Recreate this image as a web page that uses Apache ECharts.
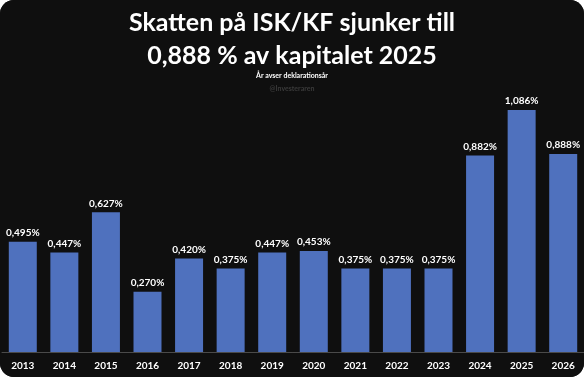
<!DOCTYPE html>
<html>
<head>
<meta charset="utf-8">
<script src="https://cdn.jsdelivr.net/npm/echarts@6/dist/echarts.min.js"></script>
<style>
  html, body { margin: 0; padding: 0; background: #ffffff; }
  #chart { width: 584px; height: 377px; background: #0f0f0f; border-radius: 14px; overflow: hidden; }
</style>
</head>
<body>
<div id="chart"></div>
<script>
const years = ['2013', '2014', '2015', '2016', '2017', '2018', '2019', '2020', '2021', '2022', '2023', '2024', '2025', '2026'];
const taxRates = [0.495, 0.447, 0.627, 0.270, 0.420, 0.375, 0.447, 0.453, 0.375, 0.375, 0.375, 0.882, 1.086, 0.888];

const chart = echarts.init(document.getElementById('chart'));
const option = {
    animation: false,
    backgroundColor: '#0f0f0f',
    textStyle: { fontFamily: 'Lato' },
    title: [
        {
            text: 'Skatten på ISK/KF sjunker till\n0,888 % av kapitalet 2025',
            left: 'center',
            top: 1,
            textStyle: { color: '#ffffff', fontSize: 25, fontWeight: 'bold', lineHeight: 33, fontFamily: 'Lato' }
        },
        {
            text: 'År avser deklarationsår',
            left: 'center',
            top: 67,
            textStyle: { color: '#ffffff', fontSize: 7, fontWeight: 'bold', fontFamily: 'Lato' }
        },
        {
            text: '@Investeraren',
            left: 'center',
            top: 80,
            textStyle: { color: '#3a3a3a', fontSize: 7, fontFamily: 'Lato' }
        }
    ],
    grid: { left: 2, right: 0, top: 84.6, bottom: 25 },
    xAxis: {
        type: 'category',
        data: years,
        axisLine: { lineStyle: { color: '#4a4a4a', width: 1 } },
        axisTick: { show: false },
        axisLabel: { color: '#ffffff', fontWeight: 'bold', fontSize: 10, margin: 9 }
    },
    yAxis: {
        type: 'value',
        min: 0,
        max: 1.2,
        show: false
    },
    series: [
        {
            type: 'bar',
            data: taxRates,
            barWidth: 28,
            itemStyle: { color: '#4f71be' },
            label: {
                show: true,
                position: 'top',
                distance: 4,
                color: '#ffffff',
                fontWeight: 'bold',
                fontSize: 10,
                formatter: p => p.value.toFixed(3).replace('.', ',') + '%'
            }
        }
    ]
};
chart.setOption(option);
</script>
</body>
</html>
